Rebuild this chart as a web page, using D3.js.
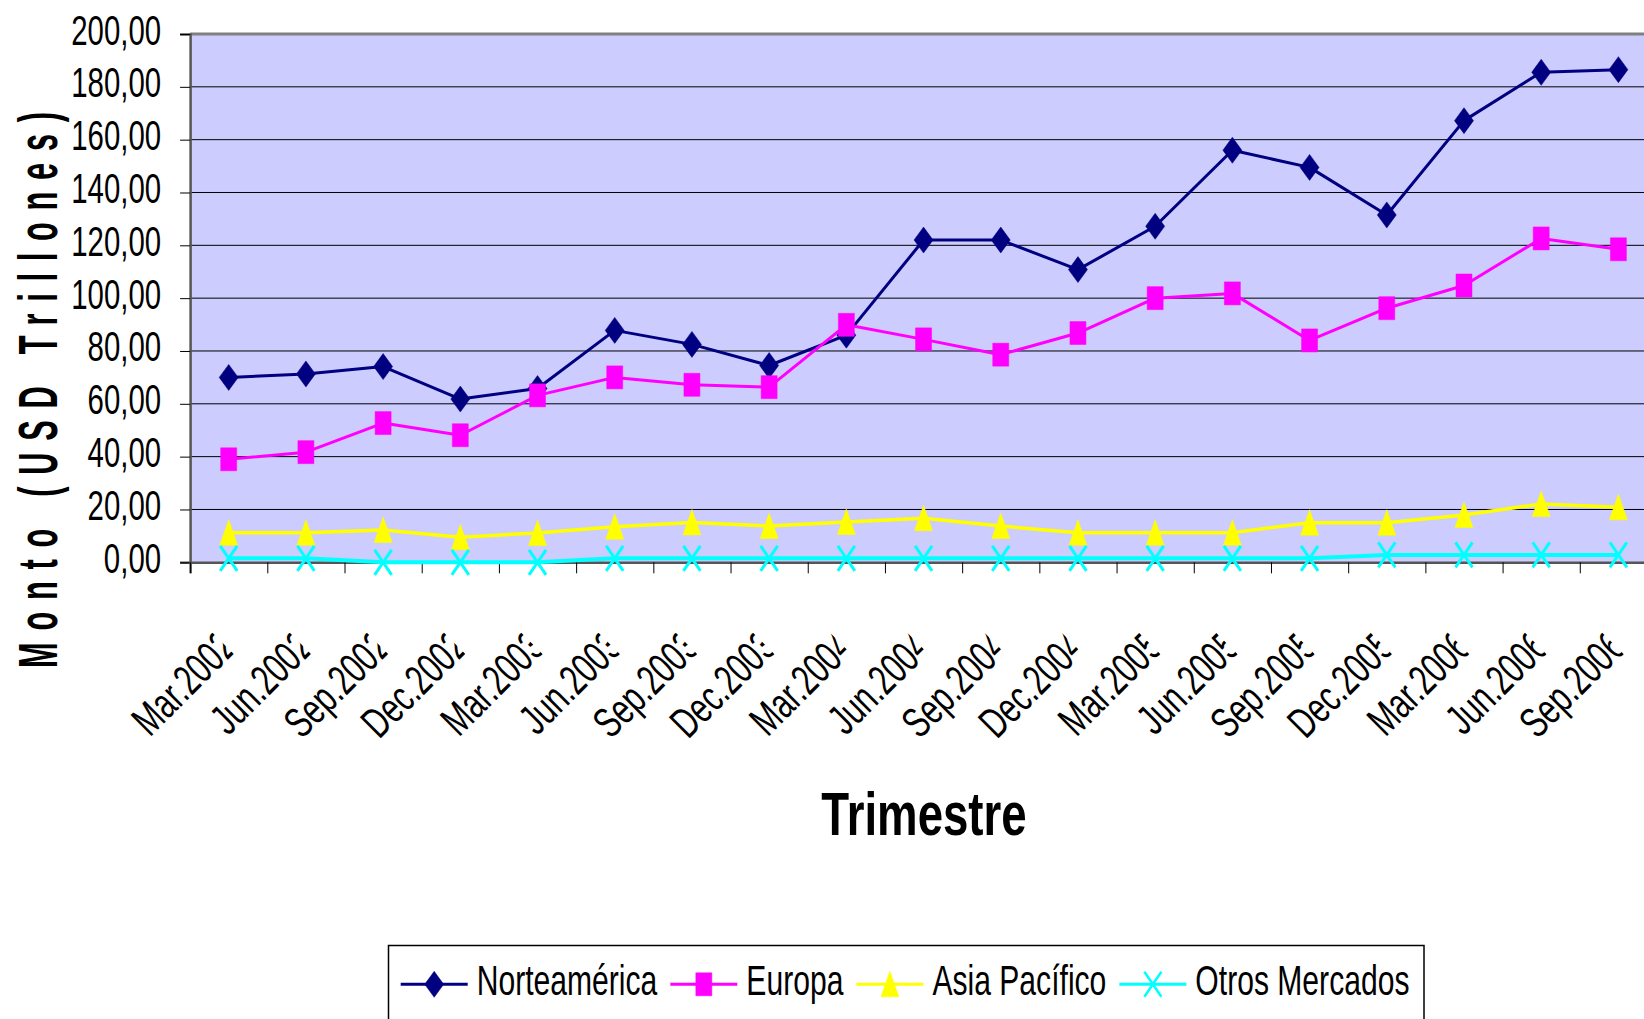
<!DOCTYPE html>
<html>
<head>
<meta charset="utf-8">
<script src="https://cdn.jsdelivr.net/npm/d3@7"></script>
<style>
  body { margin: 0; background: #fff; }
  svg { display: block; font-family: "Liberation Sans", Arial, sans-serif; }
</style>
</head>
<body>
<script>
// Daten
var categories = ["Mar.2002", "Jun.2002", "Sep.2002", "Dec.2002", "Mar.2003", "Jun.2003", "Sep.2003", "Dec.2003",
  "Mar.2004", "Jun.2004", "Sep.2004", "Dec.2004", "Mar.2005", "Jun.2005", "Sep.2005", "Dec.2005",
  "Mar.2006", "Jun.2006", "Sep.2006"];
var norteamerica = [70.0, 71.3, 74.1, 61.8, 65.8, 87.8, 82.5, 74.5, 86.0, 122.0, 122.0, 110.8, 127.2, 156.0, 149.5, 131.5, 167.2, 185.5, 186.5];
var europa = [39.0, 41.7, 52.7, 48.1, 63.2, 70.0, 67.2, 66.3, 89.9, 84.4, 78.6, 86.8, 100.0, 101.8, 84.0, 96.2, 104.8, 122.6, 118.5];
var asiaPacifico = [11.2, 11.2, 12.2, 9.5, 11.1, 13.5, 15.1, 13.7, 15.3, 16.7, 13.7, 11.2, 11.2, 11.2, 15.0, 15.0, 17.9, 22.1, 20.8];
var otrosMercados = [1.5, 1.5, 0, 0, 0, 1.5, 1.5, 1.5, 1.5, 1.5, 1.5, 1.5, 1.5, 1.5, 1.5, 2.8, 2.8, 2.8, 2.8];
var seriesNames = ["Norteamérica", "Europa", "Asia Pacífico", "Otros Mercados"];
var yTicks = [0, 20, 40, 60, 80, 100, 120, 140, 160, 180, 200];

var width = 1644, height = 1019;
var plot = {left: 190.1, right: 1657, top: 34, bottom: 562.3};
var sx = 0.7; // schmale Schrift

var series = [
  {name: seriesNames[0], values: norteamerica, color: "#000080", lw: 3, shape: "diamond"},
  {name: seriesNames[1], values: europa, color: "#FF00FF", lw: 3, shape: "square"},
  {name: seriesNames[2], values: asiaPacifico, color: "#FFFF00", lw: 3.5, shape: "triangle"},
  {name: seriesNames[3], values: otrosMercados, color: "#00FFFF", lw: 4, shape: "x"}
];

var svg = d3.select("body").append("svg")
  .attr("width", width).attr("height", height);

var xi = d3.scaleLinear().domain([0, categories.length]).range([plot.left, plot.right]);
var y = d3.scaleLinear().domain([0, 200]).range([plot.bottom, plot.top]);
var cx = function (i) { return xi(i + 0.5); };

// Hintergrund
svg.append("rect")
  .attr("x", plot.left).attr("y", plot.top)
  .attr("width", plot.right - plot.left).attr("height", plot.bottom - plot.top)
  .attr("fill", "#CCCCFF");

// Gitterlinien
svg.append("g").selectAll("line")
  .data(yTicks.filter(function (d) { return d > 0 && d < 200; }))
  .enter().append("line")
  .attr("x1", plot.left).attr("x2", plot.right)
  .attr("y1", function (d) { return y(d); }).attr("y2", function (d) { return y(d); })
  .attr("stroke", "#000").attr("stroke-width", 1);

// obere Rahmenlinie
svg.append("line")
  .attr("x1", plot.left).attr("x2", plot.right)
  .attr("y1", plot.top).attr("y2", plot.top)
  .attr("stroke", "#808080").attr("stroke-width", 3);

// Y Achse
var yAxis = svg.append("g")
  .attr("transform", "translate(" + plot.left + ",0)")
  .call(d3.axisLeft(y).tickValues(yTicks).tickSize(10)
    .tickFormat(function (d) { return d.toFixed(2).replace(".", ","); }));
yAxis.select(".domain").attr("stroke", "#555").attr("stroke-width", 2.5);
yAxis.selectAll(".tick line").attr("stroke", "#000");
yAxis.selectAll(".tick text")
  .attr("x", null).attr("dy", null)
  .attr("transform", "translate(-29,10) scale(" + sx + ",1)")
  .attr("font-size", 42).attr("fill", "#000")
  .attr("font-family", "Liberation Sans, Arial, sans-serif");

// X Achse
var xAxis = svg.append("g")
  .attr("transform", "translate(0," + plot.bottom + ")")
  .call(d3.axisBottom(xi).tickValues(d3.range(categories.length + 1)).tickSize(11).tickFormat(""));
xAxis.select(".domain").attr("stroke", "#555").attr("stroke-width", 2.5);
xAxis.selectAll(".tick line").attr("stroke", "#000");

// Beschriftung X (schraeg, abgeschnitten)
var defs = svg.append("defs");
defs.append("clipPath").attr("id", "labclip")
  .append("rect").attr("x", -600).attr("y", -100).attr("width", 600).attr("height", 300);

svg.append("g").selectAll("g")
  .data(categories)
  .enter().append("g")
  .attr("transform", function (d, i) {
    return "translate(" + (cx(i) - 17) + ",632) rotate(-45) scale(" + sx + ",1)";
  })
  .append("text")
  .attr("x", 10).attr("y", 31)
  .attr("text-anchor", "end")
  .attr("font-size", 43)
  .attr("clip-path", "url(#labclip)")
  .text(function (d) { return d; });

// Marker
function markerPath(shape) {
  if (shape === "diamond") return "M0,-13L9.5,0L0,13L-9.5,0Z";
  if (shape === "square") return "M-8,-11.5H8V11.5H-8Z";
  if (shape === "triangle") return "M0,-13L9,12.5L-9,12.5Z";
  return "M-8.5,-12.5L8.5,12.5M8.5,-12.5L-8.5,12.5";
}

var line = d3.line()
  .x(function (d, i) { return cx(i); })
  .y(function (d) { return y(d); });

series.forEach(function (s) {
  var g = svg.append("g");
  g.append("path")
    .datum(s.values)
    .attr("d", line)
    .attr("fill", "none")
    .attr("stroke", s.color)
    .attr("stroke-width", s.lw)
    .attr("stroke-linejoin", "round");
  g.selectAll(".dot")
    .data(s.values)
    .enter().append("path")
    .attr("class", "dot")
    .attr("transform", function (d, i) { return "translate(" + cx(i) + "," + y(d) + ")"; })
    .attr("d", markerPath(s.shape))
    .attr("fill", s.shape === "x" ? "none" : s.color)
    .attr("stroke", s.color)
    .attr("stroke-width", s.shape === "x" ? 3 : 0.5);
});

// Achsentitel
svg.append("g")
  .attr("transform", "translate(924,835) scale(0.754,1)")
  .append("text")
  .attr("text-anchor", "middle")
  .attr("font-size", 60.5).attr("font-weight", "bold")
  .text("Trimestre");

svg.append("g")
  .attr("transform", "translate(57,390) rotate(-90) scale(0.55,1)")
  .append("text")
  .attr("text-anchor", "middle")
  .attr("font-size", 56).attr("font-weight", "bold")
  .attr("textLength", 556 / 0.55).attr("lengthAdjust", "spacing")
  .text("Monto (USD Trillones)");

// Legende
svg.append("rect")
  .attr("x", 388.5).attr("y", 945.5)
  .attr("width", 1035.5).attr("height", 120)
  .attr("fill", "#fff").attr("stroke", "#000").attr("stroke-width", 1.5);

var lx = 400.7, ly = 984.3;
series.forEach(function (s) {
  var g = svg.append("g");
  g.append("line")
    .attr("x1", lx).attr("x2", lx + 67).attr("y1", ly).attr("y2", ly)
    .attr("stroke", s.color).attr("stroke-width", 3);
  g.append("path")
    .attr("transform", "translate(" + (lx + 33.5) + "," + ly + ")")
    .attr("d", markerPath(s.shape))
    .attr("fill", s.shape === "x" ? "none" : s.color)
    .attr("stroke", s.color)
    .attr("stroke-width", s.shape === "x" ? 2.5 : 0.5);
  var t = g.append("g")
    .attr("transform", "translate(" + (lx + 76) + ",995) scale(" + sx + ",1)")
    .append("text")
    .attr("font-size", 43)
    .text(s.name);
  lx = lx + 76 + t.node().getComputedTextLength() * sx + 13;
});
</script>
</body>
</html>
